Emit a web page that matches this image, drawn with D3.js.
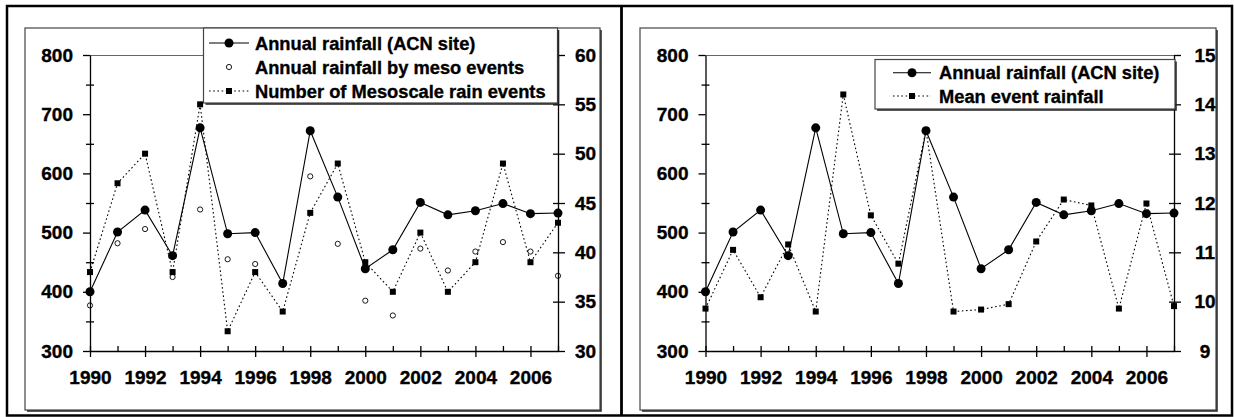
<!DOCTYPE html>
<html><head><meta charset="utf-8">
<script src="https://cdn.jsdelivr.net/npm/d3@7/dist/d3.min.js"></script>
<style>
html,body{margin:0;padding:0;background:#fff;}
svg text{font-family:"Liberation Sans",Arial,sans-serif;font-weight:bold;fill:#000;stroke:#000;stroke-width:0.35px;}
</style></head>
<body>
<svg id="c" width="1234" height="417"></svg>
<script>
const years = [1990,1991,1992,1993,1994,1995,1996,1997,1998,1999,2000,2001,2002,2003,2004,2005,2006,2007];
const annualRainfall = [400,501,538,461,677,498,500,414,672,560,439,471,551,530,537,549,532,533];
const mesoRainfall = [377,482,506,425,539,455,447,414,595,481,385,360,473,436,468,484,468,427];
const mesoEvents = [38,47,50,38,55,32,38,34,44,49,39,36,42,36,39,49,39,43];
const meanEventRain = [9.86,11.05,10.09,11.16,9.80,14.2,11.75,10.77,13.48,9.80,9.84,9.95,11.22,12.07,11.95,9.86,11.99,9.91];

const leftTicks = [300,400,500,600,700,800];
const leftMinor = [350,450,550,650,750];
const rightTicksA = [30,35,40,45,50,55,60];
const rightTicksB = [9,10,11,12,13,14,15];
const xLabelYears = [1990,1992,1994,1996,1998,2000,2002,2004,2006];

const legendA = ["Annual rainfall (ACN site)","Annual rainfall by meso events","Number of Mesoscale rain events"];
const legendB = ["Annual rainfall (ACN site)","Mean event rainfall"];

const svg = d3.select("#c");

// outer frame
svg.append("rect").attr("x",7).attr("y",6).attr("width",1225).attr("height",409.5)
  .attr("fill","none").attr("stroke","#000").attr("stroke-width",2.5);
svg.append("line").attr("x1",621.5).attr("x2",621.5).attr("y1",6).attr("y2",416)
  .attr("stroke","#000").attr("stroke-width",2.8);

function frame(g,x0,y0,x1,y1){
  g.append("rect").attr("x",x0).attr("y",y0).attr("width",x1-x0).attr("height",y1-y0)
    .attr("fill","#fff").attr("stroke","#444").attr("stroke-width",1.2);
  g.append("path").attr("d",`M${x1+1},${y0+2}V${y1+1}H${x0+2}`)
    .attr("fill","none").attr("stroke","#222").attr("stroke-width",1.5);
}

function panel(opt){
  const g = svg.append("g");
  frame(g,opt.fx0,28,opt.fx1,410);
  const x = d3.scaleLinear().domain([1990,2007]).range([opt.x0,opt.x1]);
  const yL = d3.scaleLinear().domain([300,800]).range([351,55]);
  const yR = d3.scaleLinear().domain(opt.rDomain).range([351,55]);

  // top plot border
  g.append("line").attr("x1",opt.x0).attr("x2",opt.x1).attr("y1",55.5).attr("y2",55.5)
    .attr("stroke","#666").attr("stroke-width",1);

  const style = sel => { sel.select(".domain").attr("stroke","#000").attr("stroke-width",1.3);
    sel.selectAll(".tick line").attr("stroke","#000").attr("stroke-width",1.3);
    sel.selectAll("text").attr("font-size",19).style("font-family","'Liberation Sans',Arial,sans-serif").style("font-weight","bold"); };

  // left axis
  g.append("g").attr("transform",`translate(${opt.x0},0)`)
    .call(d3.axisLeft(yL).tickValues(leftTicks).tickSizeInner(7).tickSizeOuter(0).tickPadding(10).tickFormat(d3.format("d")))
    .call(style);
  g.append("g").attr("transform",`translate(${opt.x0+4},0)`)
    .call(d3.axisLeft(yL).tickValues(leftMinor).tickSize(8).tickFormat(""))
    .call(style).call(s=>s.select(".domain").remove());

  // right axis
  const ra = g.append("g").attr("transform",`translate(${opt.x1},0)`)
    .call(d3.axisRight(yR).tickValues(opt.rTicks).tickSizeInner(7).tickSizeOuter(0).tickPadding(opt.rPad).tickFormat(d3.format("d")))
    .call(style);
  if (opt.rCenter) ra.selectAll("text").attr("text-anchor","middle");
  g.append("g").attr("transform",`translate(${opt.x1},0)`)
    .call(d3.axisLeft(yR).tickValues(opt.rTicks.slice(1,-1)).tickSize(5).tickFormat(""))
    .call(style).call(s=>s.select(".domain").remove());

  // x axis
  g.append("g").attr("transform",`translate(0,351)`)
    .call(d3.axisBottom(x).tickValues(xLabelYears).tickSizeInner(6).tickSizeOuter(0).tickPadding(14).tickFormat(d3.format("d")))
    .call(style);
  g.append("g").attr("transform",`translate(0,351)`)
    .call(d3.axisTop(x).tickValues(years).tickSize(5).tickFormat(""))
    .call(style).call(s=>s.select(".domain").remove());

  // series
  const lineL = d3.line().x((d,i)=>x(years[i])).y(d=>yL(d));
  const lineR = d3.line().x((d,i)=>x(years[i])).y(d=>yR(d));

  g.append("path").attr("d",lineL(annualRainfall)).attr("fill","none").attr("stroke","#000").attr("stroke-width",1.1);
  g.selectAll(".dot").data(annualRainfall).enter().append("circle")
    .attr("cx",(d,i)=>x(years[i])).attr("cy",d=>yL(d)).attr("r",4.5).attr("fill","#000");

  if (opt.meso) {
    g.selectAll(".oc").data(mesoRainfall).enter().append("circle")
      .attr("cx",(d,i)=>x(years[i])).attr("cy",d=>yL(d)).attr("r",2.6)
      .attr("fill","none").attr("stroke","#000").attr("stroke-width",0.9);
  }
  g.append("path").attr("d",lineR(opt.rData)).attr("fill","none").attr("stroke","#000")
    .attr("stroke-width",1.1).attr("stroke-dasharray","1.6,2.6");
  g.selectAll(".sq").data(opt.rData).enter().append("rect")
    .attr("x",(d,i)=>x(years[i])-3).attr("y",d=>yR(d)-3).attr("width",6).attr("height",6).attr("fill","#000");

  // legend
  const L = opt.legend;
  const lg = g.append("g");
  frame(lg,L.x0,L.y0,L.x1,L.y1);
  L.items.forEach((t,i)=>{
    const cy = L.rows[i];
    const kind = L.kinds[i];
    if (kind==="solid") {
      lg.append("line").attr("x1",L.lx0).attr("x2",L.lx1).attr("y1",cy).attr("y2",cy).attr("stroke","#000").attr("stroke-width",1.1);
      lg.append("circle").attr("cx",(L.lx0+L.lx1)/2).attr("cy",cy).attr("r",4.5).attr("fill","#000");
    } else if (kind==="open") {
      lg.append("circle").attr("cx",(L.lx0+L.lx1)/2).attr("cy",cy).attr("r",2.6).attr("fill","none").attr("stroke","#000").attr("stroke-width",0.9);
    } else {
      lg.append("line").attr("x1",L.lx0).attr("x2",L.lx1).attr("y1",cy).attr("y2",cy).attr("stroke","#000").attr("stroke-width",1.1).attr("stroke-dasharray","1.6,2.6");
      lg.append("rect").attr("x",(L.lx0+L.lx1)/2-3).attr("y",cy-3).attr("width",6).attr("height",6).attr("fill","#000");
    }
    lg.append("text").attr("x",L.tx).attr("y",cy).attr("dy","0.36em").attr("font-size",L.fs).text(t);
  });
}

panel({fx0:25,fx1:600,x0:90,x1:558,rDomain:[30,60],rTicks:rightTicksA,rPad:10,rCenter:false,
  rData:mesoEvents, meso:true,
  legend:{x0:203.5,y0:28,x1:557.5,y1:103,rows:[43,67,91],lx0:209,lx1:249,tx:255,fs:18.3,
    items:legendA,kinds:["solid","open","dotted"]}});

panel({fx0:640,fx1:1216,x0:705.5,x1:1174,rDomain:[9,15],rTicks:rightTicksB,rPad:24,rCenter:true,
  rData:meanEventRain, meso:false,
  legend:{x0:875,y0:59.5,x1:1175,y1:109,rows:[72.7,96],lx0:893,lx1:931,tx:939,fs:18.3,
    items:legendB,kinds:["solid","dotted"]}});
</script>
</body></html>
